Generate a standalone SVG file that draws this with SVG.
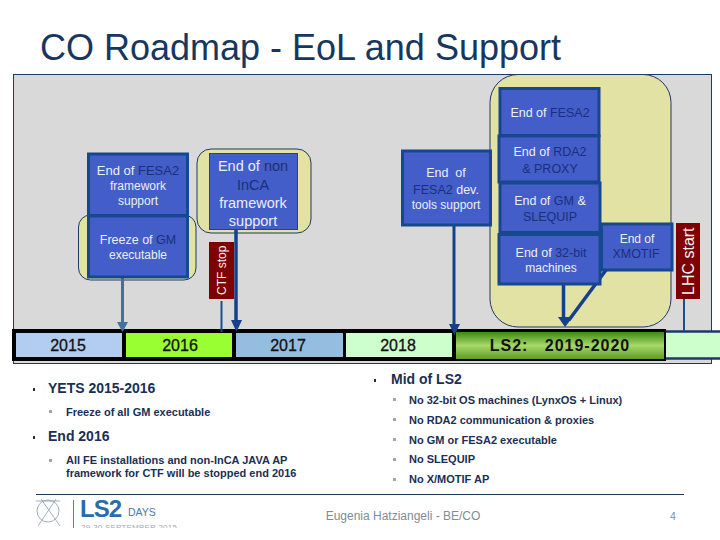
<svg xmlns="http://www.w3.org/2000/svg" width="720" height="540" viewBox="0 0 720 540">
<style>
text{font-family:"Liberation Sans",Arial,sans-serif}
.box{fill:#435ec8;stroke:#17478c;stroke-width:3}
.y{fill:#e2e2a4;stroke:#1f3864;stroke-width:1}
.w{fill:#eceef8;text-anchor:middle}
.d{fill:#1b2f7c}
.yr{font-size:16px;fill:#111;text-anchor:middle;stroke:#111;stroke-width:.3}
.b1{font-size:14px;font-weight:bold;fill:#1a2f55}
.b2{font-size:11px;font-weight:bold;fill:#1a2f55}
.sq{fill:#a6a6a6}
.sd{fill:#1a2f55}
</style>
<defs>
<linearGradient id="ls" x1="0" y1="0" x2="0" y2="1"><stop offset="0" stop-color="#3e8a10"/><stop offset=".5" stop-color="#a6d86a"/><stop offset="1" stop-color="#5f9e20"/></linearGradient>
</defs>
<rect width="720" height="540" fill="#fff"/>
<text id="title" x="40" y="60" font-size="36" fill="#17375e">CO Roadmap - EoL and Support</text>
<rect id="panel" x="13.500" y="74.500" width="698" height="289" fill="#d9d9d9" stroke="#1f3864"/>
<g id="highlights">
<rect class="y" x="78.500" y="215" width="117.500" height="65" rx="12"/>
<rect class="y" x="197" y="149" width="114" height="84" rx="14"/>
<rect class="y" x="490" y="74.500" width="181" height="252.500" rx="28"/>
</g>
<g id="timeline">
<rect x="12" y="329" width="654" height="32" fill="#000"/>
<rect x="666" y="331" width="54" height="28" fill="#ccffcc"/>
<path d="M666 331.500H720M666 358.500H720" stroke="#1f3864" stroke-width="2.500"/>
<g id="y2015"><rect x="16" y="333" width="106" height="24" fill="#b3cdf0"/><text class="yr" x="68" y="351">2015</text></g>
<g id="y2016"><rect x="126" y="333" width="106" height="24" fill="#99ff33"/><text class="yr" x="180" y="351">2016</text></g>
<g id="y2017"><rect x="236" y="333" width="107" height="24" fill="#95bde0"/><text class="yr" x="288" y="351">2017</text></g>
<g id="y2018"><rect x="346" y="333" width="106" height="24" fill="#ccffcc"/><text class="yr" x="398" y="351">2018</text></g>
<g id="yLS2"><rect x="456" y="332" width="208" height="27" fill="url(#ls)"/><text x="560" y="351" font-size="16" font-weight="bold" fill="#111" text-anchor="middle" letter-spacing="1" xml:space="preserve">LS2:   2019-2020</text></g>
</g>
<g id="connectors" fill="none">
<path d="M122.500 278V323" stroke="#41719c" stroke-width="3"/><path d="M117 322H128L122.500 332Z" fill="#41719c"/>
<path d="M221.500 301V332" stroke="#1f4e8c" stroke-width="2"/>
<path d="M236 230V322" stroke="#17408b" stroke-width="3.500"/><path d="M231 320H242L236.500 332Z" fill="#17408b"/>
<path d="M454 226V325" stroke="#17408b" stroke-width="3"/><path d="M449 324H460L454.500 335Z" fill="#17408b"/>
<path d="M563.500 280V320" stroke="#17408b" stroke-width="3.500"/>
<path d="M606 270L569 320" stroke="#17408b" stroke-width="3.500"/>
<path d="M558 317L573 317L565 327Z" fill="#17408b"/>
<path d="M684 299V331" stroke="#1f4e8c" stroke-width="2"/>
</g>
<g id="n-fesa2"><rect class="box" x="88.500" y="154" width="99" height="61.500"/><text class="w" x="138" y="175" font-size="13">End of <tspan class="d">FESA2</tspan></text><text class="w" x="138" y="190" font-size="12">framework</text><text class="w" x="138" y="205" font-size="12">support</text></g>
<g id="n-freeze"><rect class="box" x="88.500" y="216" width="99" height="61"/><text class="w" x="138" y="244" font-size="12.500">Freeze of <tspan class="d">GM</tspan></text><text class="w" x="138" y="259" font-size="12">executable</text></g>
<g id="n-inca"><rect x="209.500" y="153.500" width="88" height="76" fill="#435ec8" stroke="#17478c"/><text class="w" x="253" y="171" font-size="14.500">End of <tspan class="d">non</tspan></text><text class="w" x="253" y="190" font-size="14.500" style="fill:#1b2f7c">InCA</text><text class="w" x="253" y="208" font-size="14.500">framework</text><text class="w" x="253" y="226" font-size="14.500">support</text></g>
<g id="n-ctf"><rect x="209" y="242" width="25" height="57" fill="#7f0000"/><text transform="translate(226 295) rotate(-90)" font-size="12" fill="#f2f2f2">CTF stop</text></g>
<g id="n-devtools"><rect class="box" x="402.500" y="151" width="88" height="74"/><text class="w" x="446" y="177" font-size="12.500" xml:space="preserve">End  of</text><text class="w" x="446" y="194" font-size="12.500"><tspan class="d">FESA2</tspan> dev.</text><text class="w" x="446" y="209" font-size="12">tools support</text></g>
<g id="n-fesa"><rect class="box" x="500" y="88.500" width="99" height="47"/><text class="w" x="550" y="117" font-size="12.500">End of <tspan class="d">FESA2</tspan></text></g>
<g id="n-rda"><rect class="box" x="499" y="136" width="100" height="46"/><text class="w" x="550" y="156" font-size="12.500">End of <tspan class="d">RDA2</tspan></text><text class="w" x="550" y="173" font-size="12.500" style="fill:#1b2f7c">&amp; PROXY</text></g>
<g id="n-gm"><rect class="box" x="500" y="183" width="100" height="49.500"/><text class="w" x="550" y="205" font-size="12.500">End of <tspan class="d">GM</tspan> &amp;</text><text class="w" x="550" y="221" font-size="12.500" style="fill:#1b2f7c">SLEQUIP</text></g>
<g id="n-32"><rect class="box" x="499" y="234.500" width="101" height="49.500"/><text class="w" x="551" y="257" font-size="12.500">End of <tspan class="d">32-bit</tspan></text><text class="w" x="551" y="272" font-size="12">machines</text></g>
<g id="n-xm"><rect class="box" x="601.500" y="224" width="70.500" height="46"/><text class="w" x="637" y="243" font-size="12">End of</text><text class="w" x="636" y="258" font-size="12.500" style="fill:#1b2f7c">XMOTIF</text></g>
<g id="n-lhc"><rect x="676" y="223" width="24" height="76" fill="#7f0000"/><text transform="translate(694 295) rotate(-90)" font-size="16" fill="#f2f2f2">LHC start</text></g>
<g id="notes-left">
<rect class="sd" x="33" y="388" width="2" height="3"/><text class="b1" x="48" y="393">YETS 2015-2016</text>
<rect class="sq" x="49" y="410" width="3" height="3"/><text class="b2" x="66" y="416">Freeze of all GM executable</text>
<rect class="sd" x="33" y="436" width="2" height="3"/><text class="b1" x="48" y="441">End 2016</text>
<rect class="sq" x="49" y="459" width="3" height="3"/><text class="b2" x="66" y="464">All FE installations and non-InCA JAVA AP</text><text class="b2" x="66" y="477">framework for CTF will be stopped end 2016</text>
</g>
<g id="notes-right">
<rect class="sd" x="374" y="379" width="2" height="3"/><text class="b1" x="391" y="384">Mid of LS2</text>
<rect class="sq" x="393" y="398" width="3" height="3"/><text class="b2" x="409" y="404">No 32-bit OS machines (LynxOS + Linux)</text>
<rect class="sq" x="393" y="418" width="3" height="3"/><text class="b2" x="409" y="424">No RDA2 communication &amp; proxies</text>
<rect class="sq" x="393" y="438" width="3" height="3"/><text class="b2" x="409" y="444">No GM or FESA2 executable</text>
<rect class="sq" x="393" y="458" width="3" height="3"/><text class="b2" x="409" y="463">No SLEQUIP</text>
<rect class="sq" x="393" y="478" width="3" height="3"/><text class="b2" x="409" y="483">No X/MOTIF AP</text>
</g>
<g id="footer">
<path d="M36 494.500H684" stroke="#1f3a55"/>
<g fill="none" stroke="#8a9aaa" stroke-width=".8"><circle cx="48" cy="511" r="11"/><path d="M36 501H60M38 526L56 499M41 499L60 526"/></g>
<path d="M73.500 500V528" stroke="#5b7fa5"/>
<text x="80" y="517" font-size="24" font-weight="bold" fill="#2a6bab" letter-spacing="-1">LS2</text>
<text x="128" y="516" font-size="10.500" fill="#4a79aa">DAYS</text>
<text x="81" y="530" font-size="8" fill="#a0aab5" letter-spacing=".2">29-30 SEPTEMBER 2015</text>
<text x="403" y="520" font-size="12" fill="#7f8c9a" text-anchor="middle">Eugenia Hatziangeli - BE/CO</text>
<text x="673" y="520" font-size="10.500" fill="#7f8c9a" text-anchor="middle">4</text>
</g>
<rect x="20" y="528" width="200" height="12" fill="#fff"/>
</svg>
